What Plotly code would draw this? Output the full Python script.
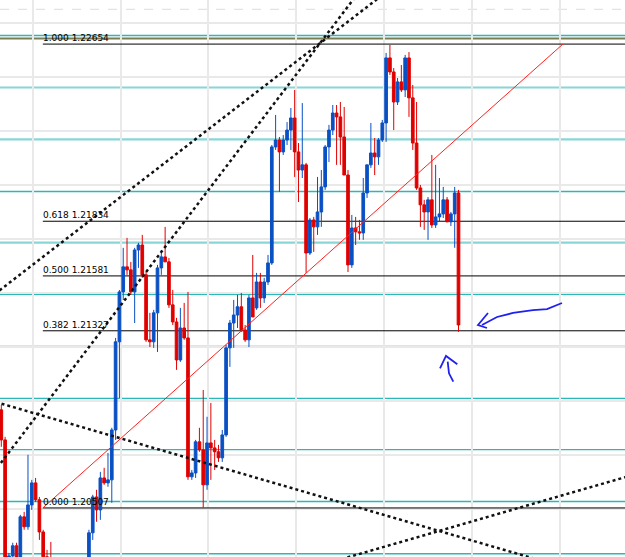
import plotly.graph_objects as go

# ---------------- data ----------------
open_ = [1.20961,1.20822,1.20258,1.20285,1.20332,1.20276,1.20466,1.20420,1.20521,1.20623,
         1.20545,1.20396,1.20281,1.20230,1.20198,1.20151,1.20184,1.20119,1.20082,1.20128,
         1.20161,1.20137,1.20198,1.20244,1.20392,1.20558,1.20498,1.20646,1.20623,1.20637,
         1.20868,1.21276,1.21507,1.21623,1.21609,1.21507,1.21701,1.21724,1.21586,1.21285,
         1.21276,1.21410,1.21618,1.21669,1.21646,1.21447,1.21368,1.21192,1.21340,1.21294,
         1.20651,1.20669,1.20813,1.20776,1.20614,1.20808,1.20785,1.20767,1.20739,1.20845,
         1.21248,1.21363,1.21400,1.21438,1.21331,1.21285,1.21479,1.21433,1.21553,1.21479,
         1.21553,1.21641,1.22178,1.22210,1.22155,1.22210,1.22256,1.22312,1.22155,1.22071,
         1.22095,1.21687,1.21840,1.21808,1.21877,1.21993,1.22178,1.22256,1.22335,1.22317,
         1.22224,1.22048,1.21632,1.21803,1.21785,1.21780,1.21965,1.22095,1.22150,1.22132,
         1.22210,1.22289,1.22590,1.22525,1.22386,1.22479,1.22442,1.22590,1.22405,1.22196,
         1.21988,1.21910,1.21877,1.21933,1.21817,1.21854,1.21868,1.21933,1.21831,1.21868,
         1.21965]
high = [1.20984,1.20836,1.20299,1.20346,1.20346,1.20475,1.20489,1.20753,1.20637,1.20646,
        1.20558,1.20406,1.20313,1.20350,1.20230,1.20198,1.20211,1.20151,1.20137,1.20174,
        1.20184,1.20221,1.20258,1.20406,1.20568,1.20591,1.20674,1.20693,1.20762,1.20878,
        1.21294,1.21516,1.21711,1.21757,1.21646,1.21711,1.21734,1.21771,1.21599,1.21410,
        1.21424,1.21632,1.21701,1.21808,1.21664,1.21516,1.21387,1.21433,1.21456,1.21507,
        1.20683,1.20822,1.20878,1.21053,1.20929,1.20993,1.20822,1.20799,1.20868,1.21262,
        1.21377,1.21470,1.21493,1.21502,1.21354,1.21493,1.21678,1.21595,1.21595,1.21572,
        1.21678,1.22187,1.22326,1.22224,1.22233,1.22293,1.22358,1.22442,1.22196,1.22381,
        1.22104,1.21849,1.21854,1.22039,1.22071,1.22187,1.22280,1.22372,1.22372,1.22386,
        1.22363,1.22071,1.21863,1.21854,1.21840,1.22034,1.22095,1.22289,1.22219,1.22219,
        1.22303,1.22613,1.22650,1.22543,1.22497,1.22557,1.22604,1.22617,1.22465,1.22386,
        1.22002,1.21933,1.21946,1.22141,1.22095,1.22034,1.21993,1.21946,1.21877,1.21993,
        1.21979]
low = [1.20790,1.20244,1.20198,1.20267,1.20258,1.20258,1.20406,1.20406,1.20498,1.20535,
       1.20359,1.20267,1.20211,1.20174,1.20128,1.20119,1.20091,1.20059,1.20054,1.20100,
       1.20110,1.20119,1.20174,1.20221,1.20359,1.20443,1.20452,1.20614,1.20605,1.20531,
       1.20822,1.21016,1.21470,1.21586,1.21493,1.21363,1.21618,1.21572,1.21276,1.21252,
       1.21248,1.21229,1.21586,1.21646,1.21433,1.21354,1.21146,1.21183,1.21285,1.20637,
       1.20637,1.20646,1.20767,1.20508,1.20591,1.20637,1.20683,1.20720,1.20720,1.20836,
       1.21160,1.21248,1.21340,1.21322,1.21276,1.21252,1.21391,1.21424,1.21433,1.21456,
       1.21539,1.21632,1.22164,1.21970,1.22141,1.22187,1.22164,1.22039,1.21923,1.22034,
       1.21595,1.21678,1.21692,1.21771,1.21808,1.21979,1.22108,1.22233,1.22095,1.22095,
       1.22062,1.21599,1.21618,1.21724,1.21748,1.21748,1.21942,1.22081,1.22048,1.22095,
       1.22201,1.22201,1.22511,1.22256,1.22372,1.22432,1.22409,1.22317,1.22164,1.21979,
       1.21808,1.21794,1.21748,1.21803,1.21803,1.21831,1.21849,1.21831,1.21812,1.21711,
       1.21322]
close = [1.20822,1.20258,1.20285,1.20332,1.20276,1.20466,1.20420,1.20521,1.20623,1.20545,
         1.20396,1.20281,1.20230,1.20198,1.20151,1.20184,1.20119,1.20082,1.20128,1.20161,
         1.20137,1.20198,1.20244,1.20392,1.20558,1.20498,1.20646,1.20623,1.20637,1.20868,
         1.21276,1.21507,1.21623,1.21609,1.21507,1.21701,1.21724,1.21586,1.21285,1.21276,
         1.21410,1.21618,1.21669,1.21646,1.21447,1.21368,1.21192,1.21340,1.21294,1.20651,
         1.20669,1.20813,1.20776,1.20614,1.20808,1.20785,1.20767,1.20739,1.20845,1.21248,
         1.21363,1.21400,1.21438,1.21331,1.21285,1.21479,1.21391,1.21553,1.21479,1.21553,
         1.21641,1.22178,1.22210,1.22155,1.22210,1.22256,1.22312,1.22155,1.22071,1.22095,
         1.21687,1.21840,1.21808,1.21877,1.21993,1.22178,1.22256,1.22335,1.22317,1.22224,
         1.22048,1.21632,1.21803,1.21785,1.21780,1.21965,1.22095,1.22150,1.22132,1.22210,
         1.22289,1.22590,1.22525,1.22386,1.22479,1.22442,1.22590,1.22405,1.22196,1.21988,
         1.21910,1.21877,1.21933,1.21817,1.21854,1.21868,1.21933,1.21831,1.21868,1.21965,
         1.21354]
bars = list(range(len(close)))

fib_ratios = ["1.000", "0.618", "0.500", "0.382", "0.000"]
fib_prices = [1.22654, 1.21834, 1.21581, 1.21327, 1.20507]
fib_start_bar = 10.9

pivot_levels = [1.22694, 1.22453, 1.22213, 1.21972, 1.21735, 1.21496,
                1.21255, 1.21014, 1.20777, 1.20537, 1.20295]
pivot_thick = [False, True, True, False, True, False, False, False, False, False, False]
olive_level = 1.22680
dashed_level = 1.22815

price_grid = [1.2050, 1.2075, 1.2100, 1.2125, 1.2150, 1.2175, 1.2200, 1.2225, 1.2250, 1.2275]
time_grid = [8.32, 31.42, 54.25, 77.35, 100.45, 123.54, 146.64]

# trend lines: (bar, price) endpoints
channel_upper = [(-2.97, 1.21480), (104.6, 1.22943)]
channel_lower = [(-2.97, 1.20649), (96.8, 1.22963)]
down_line = [(-2.97, 1.21005), (146.6, 1.20238)]
up_line = [(86.3, 1.20255), (167.6, 1.20669)]
red_line = [(fib_start_bar, 1.20507), (147.4, 1.22654)]

X_RANGE = [-0.341, 163.70]
Y_RANGE = [1.20280, 1.22858]

BLUE = "#0a50c4"
RED = "#e00000"

fig = go.Figure()
fig.add_trace(go.Candlestick(
    x=bars, open=open_, high=high, low=low, close=close,
    increasing=dict(line=dict(color=BLUE, width=1), fillcolor=BLUE),
    decreasing=dict(line=dict(color=RED, width=1), fillcolor=RED),
    whiskerwidth=0, showlegend=False, hoverinfo="skip"))

for pts in [channel_upper, channel_lower, down_line, up_line]:
    fig.add_trace(go.Scatter(x=[p[0] for p in pts], y=[p[1] for p in pts], mode="lines",
                             line=dict(color="#111111", width=2.5, dash="dot"),
                             showlegend=False, hoverinfo="skip"))
fig.add_trace(go.Scatter(x=[p[0] for p in red_line], y=[p[1] for p in red_line], mode="lines",
                         line=dict(color="#ff2020", width=1), showlegend=False, hoverinfo="skip"))

shapes = []
shapes.append(dict(type="line", xref="paper", x0=0, x1=1, yref="y", y0=dashed_level, y1=dashed_level,
                   line=dict(color="#dcdcdc", width=1, dash="dash"), layer="between"))
for lvl, thick in zip(pivot_levels, pivot_thick):
    shapes.append(dict(type="line", xref="paper", x0=0, x1=1, yref="y", y0=lvl, y1=lvl,
                       line=dict(color="#88d6d6" if thick else "#2bb8b8", width=2.2 if thick else 1.4),
                       layer="between"))
shapes.append(dict(type="line", xref="paper", x0=0, x1=1, yref="y", y0=olive_level, y1=olive_level,
                   line=dict(color="#7d7d55", width=2), layer="between"))
for p in fib_prices:
    shapes.append(dict(type="line", xref="x", x0=fib_start_bar, x1=X_RANGE[1], yref="y", y0=p, y1=p,
                       line=dict(color="#000000", width=1), layer="between"))

# hand-drawn arrows (paper coords)
arrow_stroke = "M0.8992,0.4560 L0.8752,0.4452 L0.8528,0.4434 L0.8208,0.4381 L0.7952,0.4309 L0.7712,0.4165"
arrow_head = "M0.7808,0.4381 L0.7648,0.4165 L0.7792,0.4111"
up_head = "M0.7040,0.3388 L0.7136,0.3609 L0.7317,0.3460"
up_stem = "M0.7163,0.3506 L0.7184,0.3298 L0.7253,0.3147"
for path in [arrow_stroke, arrow_head, up_head, up_stem]:
    shapes.append(dict(type="path", xref="paper", yref="paper", path=path,
                       line=dict(color="#2020f0", width=1.8), layer="above"))

annotations = []
for r, p in zip(fib_ratios, fib_prices):
    annotations.append(dict(x=fib_start_bar, y=p, xref="x", yref="y", text=f"{r} {p:.5f}",
                            showarrow=False, xanchor="left", yanchor="bottom", yshift=-1, xshift=-2,
                            font=dict(family="DejaVu Sans", size=9, color="#000000")))

fig.update_layout(
    width=625, height=557, margin=dict(l=0, r=0, t=0, b=0),
    paper_bgcolor="white", plot_bgcolor="white",
    boxgap=0.3, boxgroupgap=0,
    shapes=shapes, annotations=annotations,
    xaxis=dict(range=X_RANGE, rangeslider=dict(visible=False), tickvals=time_grid,
               showticklabels=False, showgrid=True, gridcolor="#e9e9e9", gridwidth=1.5,
               zeroline=False, showline=False, ticks=""),
    yaxis=dict(range=Y_RANGE, tickvals=price_grid, showticklabels=False, showgrid=True,
               gridcolor="#e9e9e9", gridwidth=1.5, zeroline=False, showline=False, ticks=""),
)

fig.write_html("out.html")
